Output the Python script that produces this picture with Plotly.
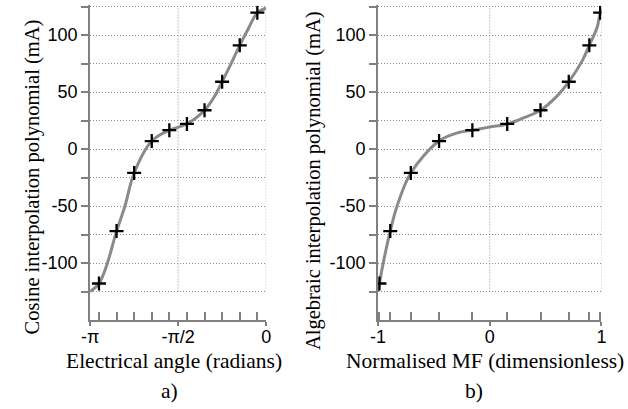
import math
import plotly.graph_objects as go

# ---- data ----
# sample nodes (electrical angle in units of pi) and their currents (mA)
node_angle_pi = [-0.95, -0.85, -0.75, -0.65, -0.55, -0.45, -0.35, -0.25, -0.15, -0.05]
node_mf = [-0.988, -0.891, -0.707, -0.454, -0.156, 0.156, 0.454, 0.707, 0.891, 0.988]
node_current = [-118, -72, -21, 7, 16.5, 22, 34, 59, 91, 119.6]

# interpolation curves
curve_a_angle_pi = [-1.0, -0.95, -0.906, -0.85, -0.804, -0.75, -0.65, -0.55, -0.45, -0.35, -0.294, -0.25, -0.202, -0.15, -0.1, -0.05, 0.0]
curve_a_current = [-125, -118, -102, -72, -51, -21, 7, 16.5, 22, 34, 46, 59, 74, 91, 106, 119.6, 123.5]
curve_b_mf = [-1.0, -0.988, -0.949, -0.891, -0.832, -0.707, -0.454, -0.278, -0.156, -0.018, 0.156, 0.306, 0.454, 0.597, 0.707, 0.831, 0.891, 0.962, 0.988, 1.0]
curve_b_current = [-125, -118, -97.5, -72, -50.6, -21, 7, 14.5, 16.5, 19, 22, 27.5, 34, 46, 59, 78, 91, 107, 119.6, 123]

y_ticks = [-125, -100, -75, -50, -25, 0, 25, 50, 75, 100, 125]
y_labels = ["", "-100", "", "-50", "", "0", "", "50", "", "100", ""]
xa_ticks_pi = [-1.0, -0.5, 0.0]
xa_labels = ["-π", "-π/2", "0"]
xb_ticks = [-1, 0, 1]
xb_labels = ["-1", "0", "1"]

PI = math.pi
node_angle = [a * PI for a in node_angle_pi]
curve_a_angle = [a * PI for a in curve_a_angle_pi]
xa_ticks = [a * PI for a in xa_ticks_pi]

W, H = 628, 409
AXC = "#808080"
GRIDC = "#8c8c8c"
CURVEC = "#8a8a8a"
SANS = "Liberation Sans"
SERIF = "Liberation Serif"

fig = go.Figure()
fig.add_trace(go.Scatter(x=curve_a_angle, y=curve_a_current, mode="lines",
                         line=dict(color=CURVEC, width=3, shape="spline", smoothing=1.0),
                         xaxis="x", yaxis="y", hoverinfo="skip", cliponaxis=False))
fig.add_trace(go.Scatter(x=node_angle, y=node_current, mode="markers",
                         marker=dict(symbol="cross-thin", size=10, line=dict(color="black", width=2.3)),
                         xaxis="x", yaxis="y"))
fig.add_trace(go.Scatter(x=curve_b_mf, y=curve_b_current, mode="lines",
                         line=dict(color=CURVEC, width=3, shape="spline", smoothing=1.0),
                         xaxis="x2", yaxis="y2", hoverinfo="skip", cliponaxis=False))
fig.add_trace(go.Scatter(x=node_mf, y=node_current, mode="markers",
                         marker=dict(symbol="cross-thin", size=10, line=dict(color="black", width=2.3)),
                         xaxis="x2", yaxis="y2"))

ydom = [(H - 320) / H, (H - 5.4) / H]
yrange = [-150, 126]

def yaxis_cfg(anchor):
    return dict(domain=ydom, range=yrange, anchor=anchor, showline=True, linecolor=AXC, linewidth=2,
                tickmode="array", tickvals=y_ticks, ticktext=y_labels, ticks="outside", ticklen=7,
                tickwidth=1.5, tickcolor=AXC, showgrid=True, gridcolor=GRIDC, griddash="1px,2px", gridwidth=1,
                zeroline=False, tickfont=dict(family=SANS, size=18, color="black"), fixedrange=True)

def xaxis_cfg(domain, rng, tv, tt, minor_vals, anchor):
    return dict(domain=domain, range=rng, anchor=anchor, showline=True, linecolor=AXC, linewidth=2,
                tickmode="array", tickvals=tv, ticktext=tt, ticks="outside", ticklen=4, tickwidth=1.5,
                tickcolor=AXC, showgrid=False, zeroline=False, ticklabelstandoff=-5,
                minor=dict(tickmode="array", tickvals=minor_vals, ticks="inside", ticklen=8,
                           tickwidth=1.5, tickcolor=AXC, showgrid=False),
                tickfont=dict(family=SANS, size=18, color="black"), fixedrange=True)

fig.update_layout(
    width=W, height=H, margin=dict(l=0, r=0, t=0, b=0),
    paper_bgcolor="white", plot_bgcolor="white", showlegend=False,
    xaxis=xaxis_cfg([83 / W, 263 / W], [-PI, 0], xa_ticks, xa_labels, node_angle, "y"),
    yaxis=yaxis_cfg("x"),
    xaxis2=xaxis_cfg([377.5 / W, 606 / W], [-1, 1], xb_ticks, xb_labels, node_mf, "y2"),
    yaxis2=yaxis_cfg("x2"),
)

# vertical dotted grid lines (stop at the -125 grid line like the original)
shapes = []
for xv in xa_ticks[1:]:
    shapes.append(dict(type="line", xref="x", yref="y", x0=xv, x1=xv, y0=y_ticks[0], y1=y_ticks[-1],
                       line=dict(color=GRIDC, width=1, dash="1px,2px"), layer="below"))
for xv in xb_ticks[1:]:
    shapes.append(dict(type="line", xref="x2", yref="y2", x0=xv, x1=xv, y0=y_ticks[0], y1=y_ticks[-1],
                       line=dict(color=GRIDC, width=1, dash="1px,2px"), layer="below"))
fig.update_layout(shapes=shapes)

def ann(text, px, py, size, angle=0):
    return dict(text=text, x=px / W, y=1 - py / H, xref="paper", yref="paper", showarrow=False,
                textangle=angle, xanchor="center", yanchor="middle",
                font=dict(family=SERIF, size=size, color="black"))

fig.update_layout(annotations=[
    ann("Cosine interpolation polynomial (mA)", 24, 177, 20.5, -90),
    ann("Algebraic interpolation polynomial (mA)", 311, 181, 20.5, -90),
    ann("Electrical angle (radians)", 169, 361, 21.5),
    ann("Normalised MF (dimensionless)", 487, 361, 21.5),
    ann("a)", 164, 391, 21.5),
    ann("b)", 476, 391, 21.5),
])

fig.write_html("out.html", config={"displayModeBar": False},
               post_script="document.body.style.margin='0px';")
